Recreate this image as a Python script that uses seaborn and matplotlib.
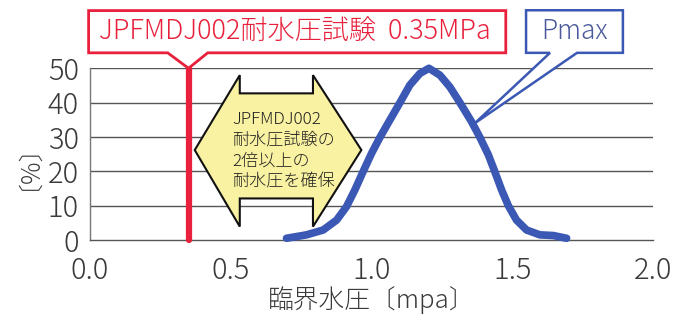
import numpy as np
import pandas as pd
import matplotlib
matplotlib.use("Agg")
import matplotlib.pyplot as plt
from matplotlib.patches import Polygon
import seaborn as sns

# ---- data ----
pressure = [0.698, 0.769, 0.828, 0.876, 0.911, 0.941, 0.970, 1.000, 1.030,
            1.065, 1.101, 1.136, 1.172, 1.204, 1.243, 1.278, 1.314, 1.355,
            1.385, 1.415, 1.438, 1.462, 1.486, 1.515, 1.551, 1.598, 1.646,
            1.693]
percent = [0.5, 1.5, 2.9, 5.8, 9.7, 14.6, 19.9, 25.2, 29.9,
           34.9, 40.0, 45.1, 48.5, 50.0, 48.0, 44.6, 40.0, 34.5,
           29.9, 24.8, 19.9, 14.6, 10.0, 5.8, 2.9, 1.5, 1.3,
           0.5]
test_pressure = 0.35
x_ticks = [0.0, 0.5, 1.0, 1.5, 2.0]
x_ticklabels = ["0.0", "0.5", "1.0", "1.5", "2.0"]
y_ticks = [0, 10, 20, 30, 40, 50]
y_ticklabels = ["0", "10", "20", "30", "40", "50"]
x_label = "臨界水圧〔mpa〕"
y_label = "〔%〕"
red_callout = "JPFMDJ002耐水圧試験  0.35MPa"
blue_callout = "Pmax"
arrow_lines = ["JPFMDJ002", "耐水圧試験の", "2倍以上の", "耐水圧を確保"]

df = pd.DataFrame({"pressure": pressure, "percent": percent})

sns.set_theme(style="white")
FONT = ["Noto Sans CJK JP", "DejaVu Sans"]
plt.rcParams["font.family"] = FONT

fig = plt.figure(figsize=(6.93, 3.16), dpi=100)
ax = fig.add_axes([0.1299, 0.2405, 0.9423 - 0.1299, 0.7839 - 0.2405])

RED = "#e8203c"
BLUE = "#3a58b4"
TXT = "#3a3a3a"

# grid
for yv in y_ticks[1:]:
    ax.axhline(yv, color="#555555", lw=1.0, zorder=1)

# red test-pressure line
ax.plot([test_pressure, test_pressure], [0, 50], color=RED, lw=4.5,
        solid_capstyle="round", zorder=3, clip_on=False)

# curve
sns.lineplot(data=df, x="pressure", y="percent", ax=ax, color=BLUE, lw=5.5,
             zorder=4, clip_on=False, solid_capstyle="round",
             solid_joinstyle="round")

ax.set_xlim(0, 2.0)
ax.set_ylim(0, 50)
ax.set_xticks(x_ticks)
ax.set_xticklabels(x_ticklabels)
ax.set_yticks(y_ticks)
ax.set_yticklabels(y_ticklabels)
ax.tick_params(axis="x", direction="in", length=6, width=0.8, color="#555555",
               labelsize=21, labelcolor=TXT, pad=11)
ax.tick_params(axis="y", length=0, labelsize=21, labelcolor=TXT, pad=8)
for lab in ax.get_xticklabels() + ax.get_yticklabels():
    lab.set_fontweight("light")
ax.set_xlabel(x_label, fontsize=18.5, color=TXT, labelpad=0,
              fontweight="light")
ax.set_ylabel(y_label, fontsize=18, color=TXT, labelpad=14,
              fontweight="light")
for s in ["top", "right"]:
    ax.spines[s].set_visible(False)
ax.spines["left"].set_color("#777777")
ax.spines["left"].set_linewidth(1.0)
ax.spines["bottom"].set_color("#555555")
ax.spines["bottom"].set_linewidth(1.0)

# yellow double arrow
arrow = [(0.372, 26.2), (0.532, 48.0), (0.532, 42.7), (0.792, 42.7),
         (0.792, 48.0), (0.964, 26.2), (0.792, 3.9), (0.792, 12.1),
         (0.532, 12.1), (0.532, 3.9)]
ax.add_patch(Polygon(arrow, closed=True, facecolor="#f9f2a2",
                     edgecolor="#111111", lw=1.5, zorder=5, clip_on=False))
for i, line in enumerate(arrow_lines):
    ax.text(0.504, 35.0 - i * 6.0, line, fontsize=12.3, color="#222222",
            ha="left", va="center", zorder=6, fontweight="light")

# red callout box
rb = [(-0.005, 54.5), (-0.005, 66.8), (1.477, 66.8), (1.477, 54.5),
      (0.418, 54.5), (test_pressure, 50.0), (0.276, 54.5)]
ax.add_patch(Polygon(rb, closed=True, facecolor="white", edgecolor=RED,
                     lw=2.0, zorder=6, clip_on=False))
ax.text(0.728, 60.8, red_callout, fontsize=19.5, color=RED, ha="center",
        va="center", zorder=7, fontweight="light")

# blue callout box
bb = [(1.549, 54.5), (1.549, 66.9), (1.893, 66.9), (1.893, 54.5),
      (1.730, 54.5), (1.367, 34.0), (1.634, 54.5)]
ax.add_patch(Polygon(bb, closed=True, facecolor="white", edgecolor=BLUE,
                     lw=1.8, zorder=6, clip_on=False))
ax.text(1.721, 60.9, blue_callout, fontsize=19, color="#4a5a9c", ha="center",
        va="center", zorder=7, fontweight="light")

fig.savefig("out.png", dpi=100)
